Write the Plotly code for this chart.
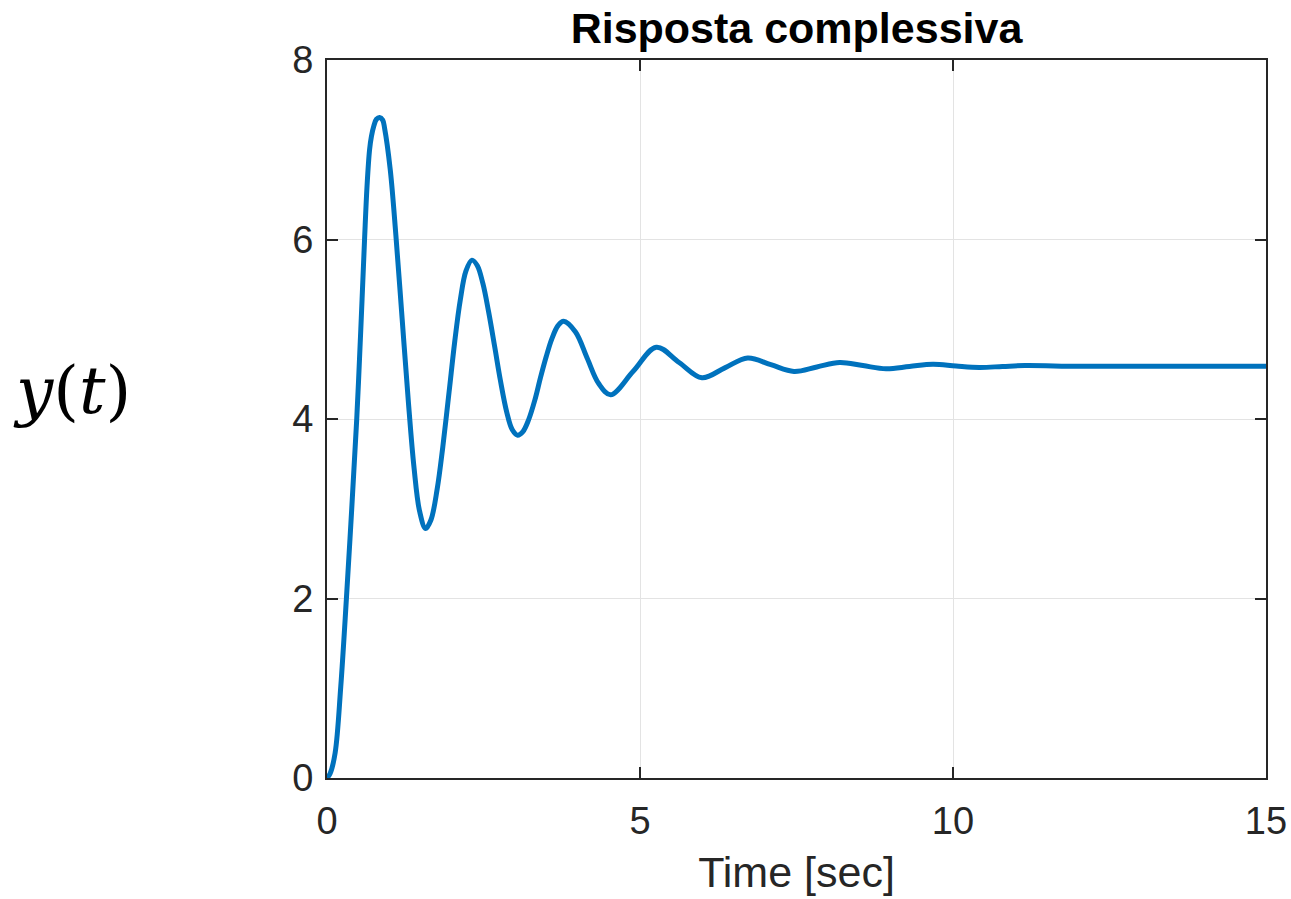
import plotly.graph_objects as go

# Values
time_s = [0, 0.05, 0.13, 0.22, 0.31, 0.395, 0.475, 0.54, 0.60, 0.64, 0.68, 0.71, 0.75, 0.79, 0.84,
          0.89, 0.92, 1.01, 1.10, 1.20, 1.30, 1.39, 1.48, 1.575,
          1.66, 1.76, 1.85, 1.95, 2.04, 2.13, 2.22, 2.316,
          2.40, 2.49, 2.58, 2.68, 2.77, 2.87, 2.96, 3.045,
          3.13, 3.22, 3.32, 3.41, 3.50, 3.59, 3.69, 3.78,
          3.97, 4.155, 4.34, 4.53, 4.895, 5.26, 5.625, 5.99, 6.355, 6.72, 7.09, 7.46,
          7.825, 8.19, 8.56, 8.93, 9.305, 9.68, 10.05, 10.42, 10.79, 11.15,
          12.0, 13.0, 14.0, 15.0]
response = [0, 0.05, 0.28, 1.02, 2.0, 3.0, 4.0, 5.0, 6.0, 6.6, 7.0, 7.15, 7.27, 7.34, 7.36,
            7.33, 7.24, 6.78, 6.05, 5.12, 4.19, 3.46, 2.97, 2.78,
            2.875, 3.22, 3.69, 4.30, 4.86, 5.33, 5.65, 5.77,
            5.71, 5.51, 5.20, 4.80, 4.43, 4.08, 3.88, 3.82,
            3.86, 3.99, 4.21, 4.46, 4.69, 4.89, 5.04, 5.09,
            4.97, 4.68, 4.395, 4.27, 4.535, 4.80, 4.63, 4.46, 4.57, 4.68, 4.605, 4.53,
            4.58, 4.63, 4.595, 4.56, 4.585, 4.61, 4.59, 4.575, 4.585, 4.595,
            4.587, 4.587, 4.587, 4.587]

x_ticks = [0, 5, 10, 15]
y_ticks = [0, 2, 4, 6, 8]

title_text = "Risposta complessiva"
x_title = "Time [sec]"
y_title = "<i>y</i>(<i>t</i>)"

fig = go.Figure()
fig.add_trace(go.Scatter(
    x=time_s, y=response, mode="lines",
    line=dict(color="#0072BD", width=5, shape="spline", smoothing=1.0),
    showlegend=False, hoverinfo="skip",
))

axis_common = dict(
    showline=True, linecolor="#262626", linewidth=2, mirror="allticks",
    ticks="inside", ticklen=11, tickwidth=2, tickcolor="#262626",
    showgrid=True, gridcolor="#e3e3e3", gridwidth=1.3,
    zeroline=False, automargin=False,
    tickfont=dict(family="Liberation Sans, Arial", size=38, color="#262626"),
)

fig.update_xaxes(range=[0, 15], tickvals=x_ticks, ticktext=[str(v) for v in x_ticks],
                 ticklabelstandoff=8,
                 title=dict(text=x_title, standoff=16,
                            font=dict(family="Liberation Sans, Arial", size=43, color="#262626")),
                 **axis_common)
fig.update_yaxes(range=[0, 8], tickvals=y_ticks, ticktext=[str(v) for v in y_ticks],
                 ticklabelstandoff=4,
                 **axis_common)

fig.update_layout(
    width=1291, height=899,
    margin=dict(l=327, r=25, t=60, b=121),
    paper_bgcolor="white", plot_bgcolor="white",
    title=dict(text="<b>" + title_text + "</b>", x=0.5, xref="paper", xanchor="center",
               y=1, yref="paper", yanchor="bottom", pad=dict(b=17),
               font=dict(family="Liberation Sans, Arial", size=43, color="black")),
    annotations=[dict(text=y_title, x=(72 - 327) / (1291 - 327 - 25), y=0.54,
                      xref="paper", yref="paper",
                      xanchor="center", yanchor="middle", showarrow=False,
                      font=dict(family="DejaVu Serif", size=66, color="black"))],
)

fig.write_html("out.html", config={"displayModeBar": False},
               post_script="document.body.style.margin='0';document.body.style.overflow='hidden';")
